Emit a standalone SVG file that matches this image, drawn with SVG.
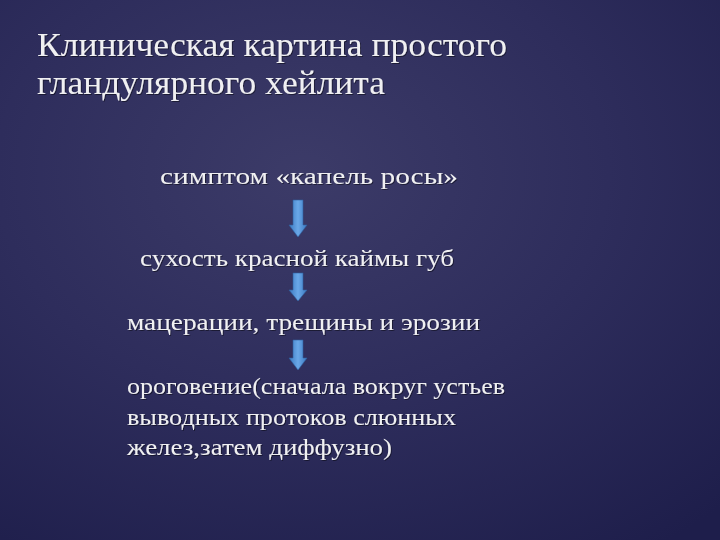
<svg xmlns="http://www.w3.org/2000/svg" width="720" height="540" viewBox="0 0 720 540">
<defs>
<radialGradient id="bg" cx="0.42" cy="0.32" r="0.85">
<stop offset="0" stop-color="#3c3b68"/>
<stop offset="0.5" stop-color="#2e2d5c"/>
<stop offset="1" stop-color="#1e1e4b"/>
</radialGradient>
<linearGradient id="ag" x1="0" y1="0" x2="1" y2="0">
<stop offset="0" stop-color="#3b78c0"/>
<stop offset="0.5" stop-color="#6aa8e8"/>
<stop offset="1" stop-color="#3b78c0"/>
</linearGradient>
<filter id="sh" x="-5%" y="-20%" width="110%" height="140%">
<feDropShadow dx="1" dy="1" stdDeviation="0.7" flood-color="#000" flood-opacity="0.45"/>
</filter>
</defs>
<style>
.t{font-family:"Liberation Serif","DejaVu Serif",serif;fill:#f0f0f2;filter:url(#sh)}
.h{font-size:33px}
.b{font-size:24px}
.a{fill:url(#ag);stroke:#2f5f9f;stroke-width:0.6}
</style>
<rect width="720" height="540" fill="url(#bg)"/>
<g id="title">
<text class="t h" x="37" y="56" textLength="470" lengthAdjust="spacingAndGlyphs">Клиническая картина простого</text>
<text class="t h" x="37" y="94" textLength="348" lengthAdjust="spacingAndGlyphs">гландулярного хейлита</text>
</g>
<g id="n1"><text class="t b" x="160" y="184" textLength="298" lengthAdjust="spacingAndGlyphs">симптом «капель росы»</text></g>
<g id="n2"><text class="t b" x="140" y="266" textLength="314" lengthAdjust="spacingAndGlyphs">сухость красной каймы губ</text></g>
<g id="n3"><text class="t b" x="127" y="330" textLength="353" lengthAdjust="spacingAndGlyphs">мацерации, трещины и эрозии</text></g>
<g id="n4">
<text class="t b" x="127" y="394" textLength="378" lengthAdjust="spacingAndGlyphs">ороговение(сначала вокруг устьев</text>
<text class="t b" x="127" y="425" textLength="329" lengthAdjust="spacingAndGlyphs">выводных протоков слюнных</text>
<text class="t b" x="127" y="455" textLength="265" lengthAdjust="spacingAndGlyphs">желез,затем диффузно)</text>
</g>
<g id="connectors">
<path class="a" d="M293,200 H303 V225 H307 L298,237 L289,225 H293 Z"/>
<path class="a" d="M293,273 H303 V290 H307 L298,301 L289,290 H293 Z"/>
<path class="a" d="M293,340 H303 V358 H307 L298,370 L289,358 H293 Z"/>
</g>
</svg>
